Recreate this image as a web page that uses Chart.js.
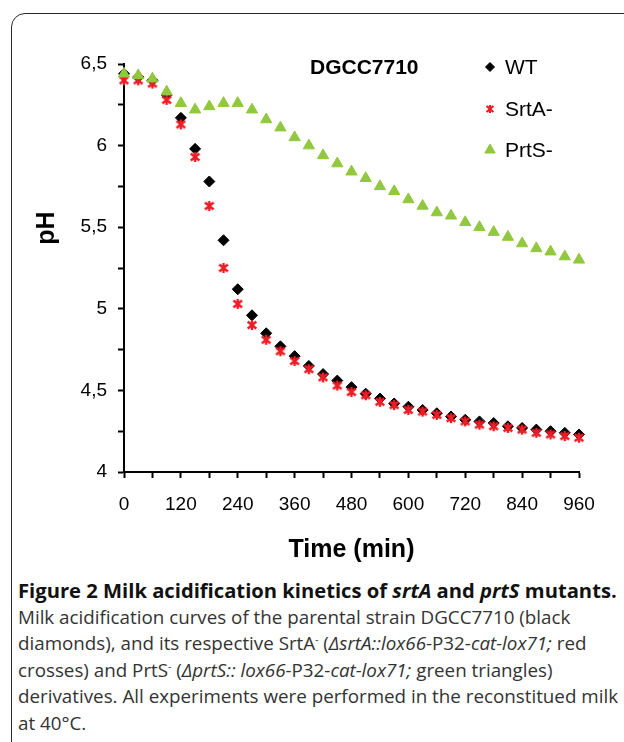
<!DOCTYPE html>
<html>
<head>
<meta charset="utf-8">
<script src="https://cdn.jsdelivr.net/npm/chart.js@4/dist/chart.umd.min.js"></script>
<style>
  html, body { margin: 0; padding: 0; background: #fff; overflow: hidden; }
  body { width: 624px; height: 742px; position: relative; }
  #frame {
    position: absolute; left: 11px; top: 13px; width: 720px; height: 800px;
    border: 1.5px solid #2a2a2a; border-radius: 14px; box-sizing: border-box;
  }
  #wrap { position: absolute; left: 0; top: 0; width: 624px; height: 570px; }
  #caption {
    position: absolute; left: 18px; top: 577px;
    font-family: "Open Sans", "Noto Sans", sans-serif; font-size: 18.8px;
    line-height: 26.5px; color: #333; white-space: nowrap;
  }
  #caption .head { font-weight: 700; color: #111; font-size: 20.2px; }
  #caption i { font-style: italic; }
  #caption sup { font-size: 10px; vertical-align: 7px; line-height: 0; }
</style>
</head>
<body>
<div id="frame"></div>
<div id="wrap"><canvas id="chart" width="624" height="570"></canvas></div>
<div id="caption">
  <div class="head">Figure 2 Milk acidification kinetics of <i>srtA</i> and <i>prtS</i> mutants.</div>
  <div>Milk acidification curves of the parental strain DGCC7710 (black</div>
  <div>diamonds), and its respective SrtA<sup>-</sup> (<i>ΔsrtA::lox66</i>-P32-<i>cat-lox71;</i> red</div>
  <div>crosses) and PrtS<sup>-</sup> (<i>ΔprtS:: lox66</i>-P32-<i>cat-lox71;</i> green triangles)</div>
  <div>derivatives. All experiments were performed in the reconstitued milk</div>
  <div>at 40°C.</div>
</div>
<script>
const times = [0, 30, 60, 90, 120, 150, 180, 210, 240, 270, 300, 330, 360, 390, 420, 450,
  480, 510, 540, 570, 600, 630, 660, 690, 720, 750, 780, 810, 840, 870, 900, 930, 960];

const wtPh = [6.44, 6.42, 6.40, 6.31, 6.17, 5.98, 5.78, 5.42, 5.12, 4.96, 4.85, 4.77, 4.71,
  4.65, 4.60, 4.56, 4.52, 4.48, 4.45, 4.42, 4.40, 4.38, 4.36, 4.34, 4.32, 4.31, 4.30,
  4.28, 4.27, 4.26, 4.25, 4.24, 4.23];

const srtaPh = [6.40, 6.40, 6.38, 6.28, 6.13, 5.93, 5.63, 5.25, 5.03, 4.90, 4.81, 4.74, 4.68,
  4.63, 4.58, 4.53, 4.49, 4.47, 4.43, 4.41, 4.38, 4.37, 4.35, 4.33, 4.31, 4.29, 4.28,
  4.27, 4.26, 4.24, 4.23, 4.22, 4.21];

const prtsPh = [6.44, 6.43, 6.41, 6.33, 6.26, 6.22, 6.24, 6.26, 6.26, 6.22, 6.16, 6.11, 6.05,
  6.00, 5.94, 5.89, 5.84, 5.80, 5.75, 5.72, 5.67, 5.63, 5.59, 5.57, 5.53, 5.50, 5.47,
  5.44, 5.40, 5.37, 5.35, 5.32, 5.30];

const seriesNames = ["WT", "SrtA-", "PrtS-"];
const strainLabel = "DGCC7710";
const xTitle = "Time (min)";
const yTitle = "pH";

const AXIS_FONT = "'Liberation Sans', Arial, sans-serif";
const GREEN = "#92c83e";
const RED = "#ee1c25";

// six-armed asterisk, used as a point style image
function asteriskImage(size, lw) {
  const c = document.createElement("canvas");
  c.width = size;
  c.height = size;
  const g = c.getContext("2d");
  const m = size / 2;
  const r = m - 1;
  g.strokeStyle = RED;
  g.lineWidth = lw;
  g.lineCap = "butt";
  g.beginPath();
  g.moveTo(m, m - r);
  g.lineTo(m, m + r);
  const dx = r * Math.cos(Math.PI / 6);
  const dy = r * Math.sin(Math.PI / 6) + 1;
  g.moveTo(m - dx, m - dy);
  g.lineTo(m + dx, m + dy);
  g.moveTo(m - dx, m + dy);
  g.lineTo(m + dx, m - dy);
  g.stroke();
  return c;
}

const starPoint = asteriskImage(12, 2.4);
const starLegend = asteriskImage(10, 2.2);

const toPoints = (ys) => times.map((t, i) => ({ x: t, y: ys[i] }));

const markerStyles = [
  { pointStyle: "rectRot", radius: 5.5, color: "#000000", borderWidth: 1 },
  { pointStyle: starPoint, radius: 6, color: RED, borderWidth: 0 },
  { pointStyle: "triangle", radius: 6.5, color: GREEN, borderWidth: 1 },
];

function makeDataset(label, ys, m, order) {
  return {
    label,
    data: toPoints(ys),
    pointStyle: m.pointStyle,
    pointRadius: m.radius,
    pointHoverRadius: m.radius,
    backgroundColor: m.color,
    borderColor: m.color,
    pointBorderWidth: m.borderWidth,
    showLine: false,
    clip: false,
    order,
  };
}

// legend, strain name and the off-centre y title
const extrasPlugin = {
  id: "extras",
  afterDraw(chart) {
    const ctx = chart.ctx;
    ctx.save();
    ctx.fillStyle = "#000";
    ctx.textBaseline = "middle";

    ctx.font = "bold 21px " + AXIS_FONT;
    ctx.textAlign = "left";
    ctx.fillText(strainLabel, 310, 68);

    const rows = [67, 109, 150];
    const legendSize = [4.5, 5, 6];
    seriesNames.forEach((name, i) => {
      const m = markerStyles[i];
      ctx.fillStyle = m.color;
      ctx.strokeStyle = m.color;
      ctx.lineWidth = m.borderWidth;
      const style = i === 1 ? starLegend : m.pointStyle;
      const opts = { pointStyle: style, radius: legendSize[i], rotation: 0, borderWidth: m.borderWidth };
      if (Chart.helpers && Chart.helpers.drawPoint) {
        Chart.helpers.drawPoint(ctx, opts, 490, rows[i]);
      }
      ctx.fillStyle = "#000";
      ctx.font = "21px " + AXIS_FONT;
      ctx.fillText(name, 505, rows[i] + 1);
    });

    ctx.translate(47, 228);
    ctx.rotate(-Math.PI / 2);
    ctx.textAlign = "center";
    ctx.font = "bold 25px " + AXIS_FONT;
    ctx.fillStyle = "#000";
    ctx.fillText(yTitle, 0, 0);
    ctx.restore();
  },
};

new Chart(document.getElementById("chart"), {
  type: "scatter",
  data: {
    datasets: [
      makeDataset(seriesNames[0], wtPh, markerStyles[0], 3),
      makeDataset(seriesNames[1], srtaPh, markerStyles[1], 2),
      makeDataset(seriesNames[2], prtsPh, markerStyles[2], 1),
    ],
  },
  options: {
    responsive: false,
    animation: false,
    devicePixelRatio: 1,
    layout: { padding: { top: 64, right: 45, left: 0, bottom: 0 } },
    plugins: { legend: { display: false }, tooltip: { enabled: false } },
    scales: {
      x: {
        type: "linear",
        min: 0,
        max: 960,
        afterFit: (s) => { s.height = 98; },
        border: { color: "#000", width: 2 },
        grid: { drawOnChartArea: false, drawTicks: true, tickLength: 6, tickColor: "#000", tickWidth: 2 },
        ticks: {
          stepSize: 60,
          autoSkip: false,
          maxRotation: 0,
          padding: 15,
          color: "#000",
          font: { family: AXIS_FONT, size: 19 },
          callback: (v) => (v % 120 === 0 ? String(v) : ""),
        },
        title: {
          display: true,
          text: xTitle,
          color: "#000",
          font: { family: AXIS_FONT, size: 25, weight: "bold" },
          padding: { top: 0, bottom: 5 },
        },
      },
      y: {
        min: 4,
        max: 6.5,
        afterFit: (s) => { s.width = 124; },
        border: { color: "#000", width: 2 },
        grid: { drawOnChartArea: false, drawTicks: true, tickLength: 6, tickColor: "#000", tickWidth: 2 },
        ticks: {
          stepSize: 0.25,
          autoSkip: false,
          padding: 11,
          color: "#000",
          font: { family: AXIS_FONT, size: 19 },
          callback: (v) => (v % 0.5 === 0 ? String(v).replace(".", ",") : ""),
        },
      },
    },
  },
  plugins: [extrasPlugin],
});
</script>
</body>
</html>
